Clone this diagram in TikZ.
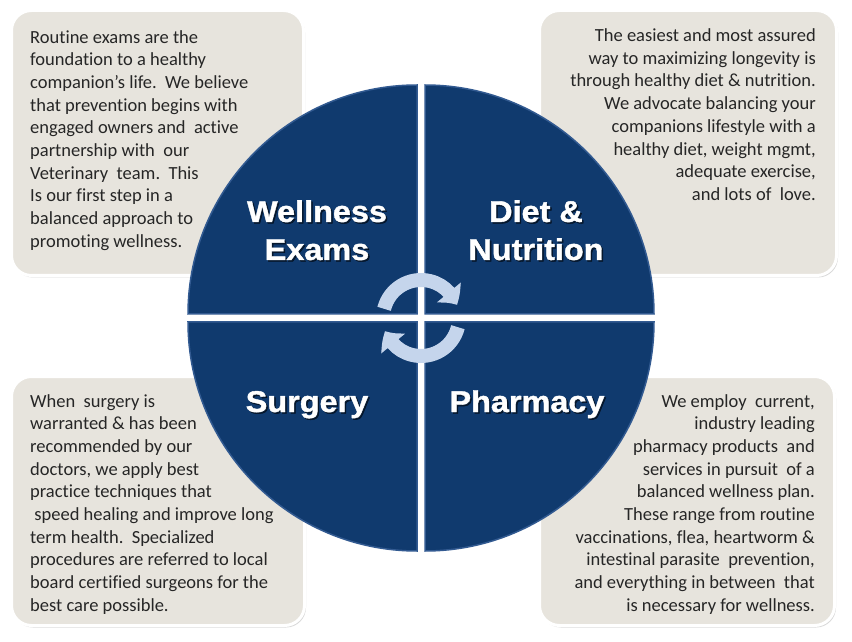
\documentclass[tikz,border=0pt]{standalone}
\usepackage{fontspec}
\newfontfamily\bodyfont{Carlito}[Ligatures={NoCommon, NoRequired, NoContextual}]
\newfontfamily\titlefont{Liberation Sans}[FakeStretch=1.08, BoldFeatures={FakeBold=1.3}]
\usetikzlibrary{arrows.meta, bending, calc, shadows}
\definecolor{navy}{RGB}{16,58,110}
\definecolor{navyedge}{RGB}{50,90,145}
\definecolor{boxfill}{RGB}{231,228,221}
\definecolor{cyclearrow}{RGB}{197,213,236}
\tikzset{
    my-info-box/.style={
        draw=white, line width=3pt, fill=boxfill, rounded corners=20pt,
        drop shadow={shadow xshift=1.5pt, shadow yshift=-2pt, opacity=.3},
        anchor=south west, inner sep=0pt
    },
    my-quarter/.style={
        fill=navy, draw=navyedge, line width=1.5pt
    },
    my-title/.style={
        text=white, align=center, inner sep=0pt,
        font=\titlefont\bfseries\fontsize{30}{38}\selectfont
    },
    my-title-shadow/.style={
        my-title, text=black, text opacity=.55
    },
    my-body/.style={
        text=black!85, inner sep=0pt,
        font=\bodyfont\fontsize{18.5}{22.7}\selectfont
    },
    my-cycle-arrow/.style={
        draw=cyclearrow, line width=14pt, -{Triangle[width=30pt, length=15pt, bend]}
    },
}

\begin{document}
\begin{tikzpicture}[x=1pt, y=1pt]

        \path[use as bounding box, fill=white] (0,0) rectangle (852,641);

        % BOXES
        \node[my-info-box, minimum width=292, minimum height=265] (TLBOX) at (10,364)  {};
        \node[my-info-box, minimum width=297, minimum height=265] (TRBOX) at (538,364) {};
        \node[my-info-box, minimum width=293, minimum height=249] (BLBOX) at (10,14)   {};
        \node[my-info-box, minimum width=295, minimum height=249] (BRBOX) at (538,14)  {};

        % BOX TEXTS
        \node[my-body, anchor=north west, align=left]  (TLTEXT) at ($(TLBOX.north west) + (20,-21)$)
            {Routine exams are the\\
             foundation to a healthy\\
             companion’s life.\ \ We believe\\
             that prevention begins with\\
             engaged owners and\ \ active\\
             partnership with\ \ our\\
             Veterinary\ \ team.\ \ This\\
             Is our first step in a\\
             balanced approach to\\
             promoting wellness.};
        \node[my-body, anchor=north east, align=right] (TRTEXT) at ($(TRBOX.north east) + (-22,-19.5)$)
            {The easiest and most assured\\
             way to maximizing longevity is\\
             through healthy diet \& nutrition.\\
             We advocate balancing your\\
             companions lifestyle with a\\
             healthy diet, weight mgmt,\\
             adequate exercise,\\
             and lots of\ \ love.};
        \node[my-body, anchor=north west, align=left]  (BLTEXT) at ($(BLBOX.north west) + (20,-19)$)
            {When\ \ surgery is\\
             warranted \& has been\\
             recommended by our\\
             doctors, we apply best\\
             practice techniques that\\
             \ speed healing and improve long\\
             term health.\ \ Specialized\\
             procedures are referred to local\\
             board certified surgeons for the\\
             best care possible.};
        \node[my-body, anchor=north east, align=right] (BRTEXT) at ($(BRBOX.north east) + (-21,-19)$)
            {We employ\ \ current,\\
             industry leading\\
             pharmacy products\ \ and\\
             services in pursuit\ \ of a\\
             balanced wellness plan.\\
             These range from routine\\
             vaccinations, flea, heartworm \&\\
             intestinal parasite\ \ prevention,\\
             and everything in between\ \ that\\
             is necessary for wellness.};

        % CIRCLE QUARTERS
        \coordinate[] (C) at (421,323);
        \draw[my-quarter] ($(C) + (-4,4)$)  -- ++(0,229)  arc (90:180:229)  -- cycle;
        \draw[my-quarter] ($(C) + (4,4)$)   -- ++(229,0)  arc (0:90:229)    -- cycle;
        \draw[my-quarter] ($(C) + (-4,-4)$) -- ++(-229,0) arc (180:270:229) -- cycle;
        \draw[my-quarter] ($(C) + (4,-4)$)  -- ++(0,-229) arc (270:360:229) -- cycle;

        % TITLE SHADOWS
        \node[my-title-shadow, anchor=north] (WELLSH) at (318.5,439.5) {Wellness\\Exams};
        \node[my-title-shadow, anchor=north] (DIETSH) at (537.5,439.5) {Diet \&\\Nutrition};
        \node[my-title-shadow, anchor=base]  (SURGSH) at (308.5,227.5) {Surgery};
        \node[my-title-shadow, anchor=base]  (PHARSH) at (528.5,227.5) {Pharmacy};

        % TITLES
        \node[my-title, anchor=north] (WELL) at (317,441) {Wellness\\Exams};
        \node[my-title, anchor=north] (DIET) at (536,441) {Diet \&\\Nutrition};
        \node[my-title, anchor=base]  (SURG) at (307,229) {Surgery};
        \node[my-title, anchor=base]  (PHAR) at (527,229) {Pharmacy};

        % CYCLE ARROWS
        \draw[my-cycle-arrow] ([shift={(166:38)}]C) arc (166:20:38);
        \draw[my-cycle-arrow] ([shift={(-14:38)}]C) arc (-14:-160:38);

\end{tikzpicture}
\end{document}
